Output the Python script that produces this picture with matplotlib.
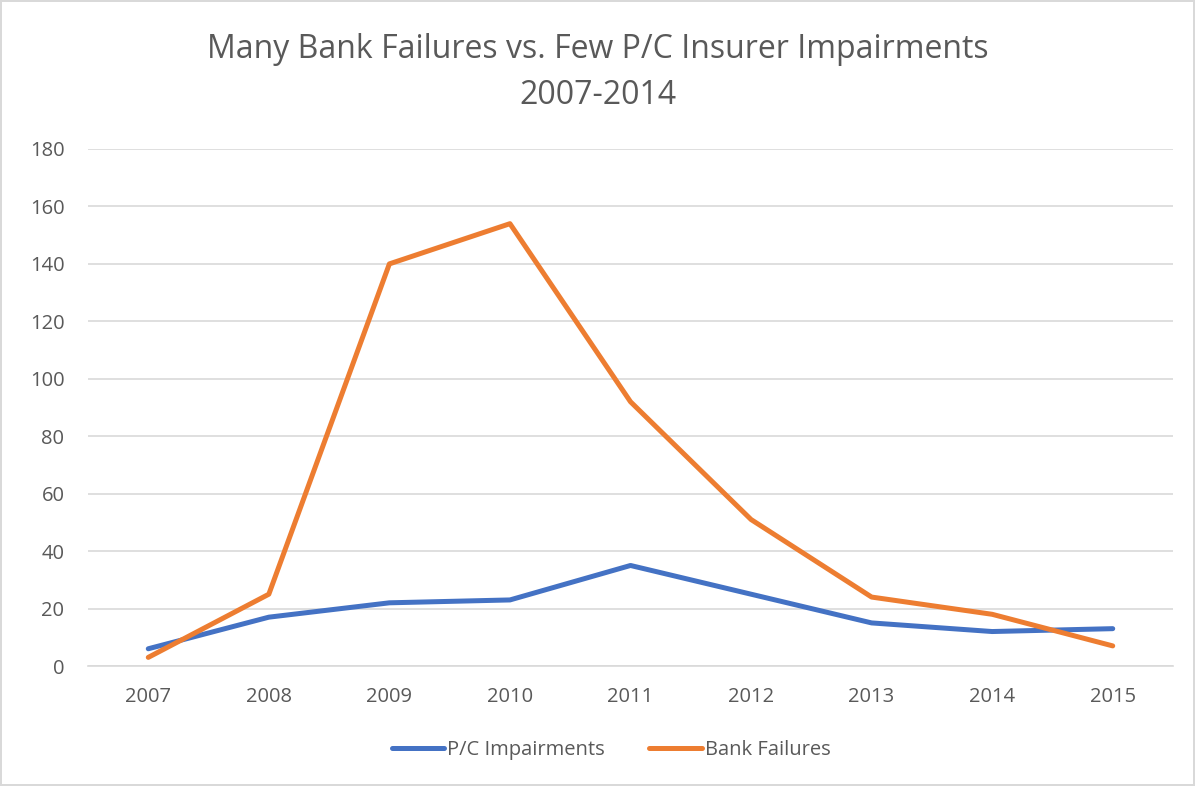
import matplotlib.pyplot as plt

anios = ["2007", "2008", "2009", "2010", "2011", "2012", "2013", "2014", "2015"]
pc_impairments = [6, 17, 22, 23, 35, 25, 15, 12, 13]
bank_failures = [3, 25, 140, 154, 92, 51, 24, 18, 7]

gris = "#595959"
plt.rcParams['font.family'] = ['Open Sans', 'DejaVu Sans']

fig = plt.figure(figsize=(11.95, 7.86), dpi=100)
fig.patch.set_edgecolor("#d9d9d9")
fig.patch.set_linewidth(1.5)
ax = fig.add_axes([88 / 1195, 1 - 666 / 786, (1173 - 88) / 1195, (666 - 149) / 786])

x = range(len(anios))
ax.plot(x, pc_impairments, color="#4472c4", linewidth=3.6, solid_capstyle="round",
        solid_joinstyle="round", label="P/C Impairments")
ax.plot(x, bank_failures, color="#ed7d31", linewidth=3.6, solid_capstyle="round",
        solid_joinstyle="round", label="Bank Failures")

ax.set_xlim(-0.5, len(anios) - 0.5)
ax.set_ylim(0, 180)
ax.set_yticks(range(0, 181, 20))
ax.set_xticks(list(x))
ax.set_xticklabels(anios)
ax.grid(axis="y", color="#d9d9d9", linewidth=1.2)
ax.set_axisbelow(True)
for lado in ["top", "right", "left"]:
    ax.spines[lado].set_visible(False)
ax.spines["bottom"].set_color("#d9d9d9")
ax.spines["bottom"].set_linewidth(1.2)
ax.tick_params(length=0, labelsize=14.5, colors=gris)
ax.tick_params(axis="x", pad=15)
ax.tick_params(axis="y", pad=17)

fig.text(0.5, 1 - 50 / 786, "Many Bank Failures vs. Few P/C Insurer Impairments",
         ha="center", va="center", fontsize=23, color=gris)
fig.text(0.5, 1 - 96 / 786, "2007-2014", ha="center", va="center", fontsize=23, color=gris)

fig.legend(loc="center", bbox_to_anchor=(611 / 1195, 1 - 750 / 786), ncol=2, frameon=False,
           fontsize=14.5, labelcolor=gris, handlelength=2.6, handletextpad=0.15,
           columnspacing=2.2)

plt.savefig("out.png", dpi=100)
